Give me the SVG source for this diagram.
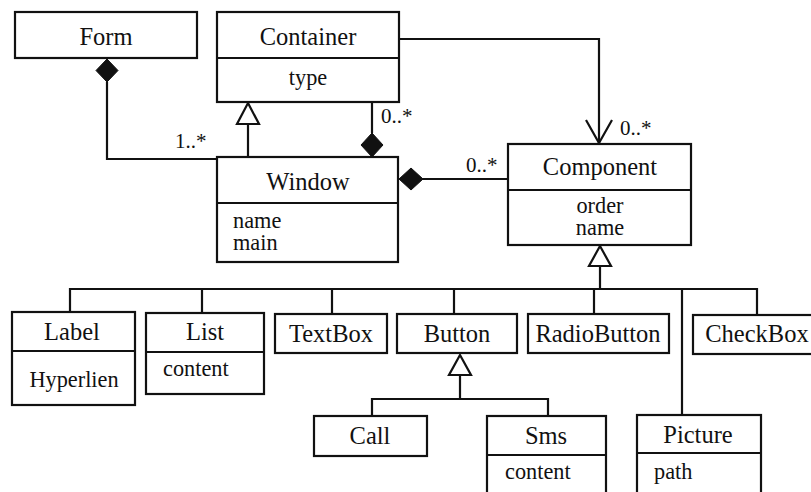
<svg xmlns="http://www.w3.org/2000/svg" width="811" height="492" viewBox="0 0 811 492" font-family="'Liberation Serif', 'Times New Roman', Times, serif">
<style>
.box{fill:#fff;stroke:#111;stroke-width:2.2}
.ln{fill:none;stroke:#111;stroke-width:2.2}
text{font-family:'Liberation Serif','Times New Roman',Times,serif;fill:#111}
.cn{font-size:24.5px;text-anchor:middle}
.at{font-size:22.3px}
.atc{font-size:22.3px;text-anchor:middle}
.m{font-size:21px}
.dia{fill:#111;stroke:#111;stroke-width:1}
.tri{fill:#fff;stroke:#111;stroke-width:2.2}
</style>
<rect width="811" height="492" fill="#fff"/>
<g id="connectors">
  <polyline class="ln" points="107,82 107,159 217,159"/>
  <polygon class="dia" points="107,59 118,70.5 107,82 96,70.5"/>
  <text class="m" x="175" y="148">1..*</text>
  <line class="ln" x1="248" y1="124" x2="248" y2="157"/>
  <polygon class="tri" points="248,103 259,124 237,124"/>
  <line class="ln" x1="372" y1="102" x2="372" y2="133"/>
  <polygon class="dia" points="372,133 383,145 372,157 361,145"/>
  <text class="m" x="381" y="123">0..*</text>
  <line class="ln" x1="422" y1="179" x2="508" y2="179"/>
  <polygon class="dia" points="399,179 411,168 423,179 411,190"/>
  <text class="m" x="466" y="172">0..*</text>
  <polyline class="ln" points="399,39 599,39 599,143"/>
  <polyline class="ln" points="586,120 599,143 612,120"/>
  <text class="m" x="620" y="135">0..*</text>
  <polygon class="tri" points="600,246 611,266 589,266"/>
  <line class="ln" x1="600" y1="266" x2="600" y2="289"/>
  <polyline class="ln" points="70,312 70,289 757,289 757,315"/>
  <line class="ln" x1="202" y1="289" x2="202" y2="313"/>
  <line class="ln" x1="332" y1="289" x2="332" y2="314"/>
  <line class="ln" x1="454" y1="289" x2="454" y2="314"/>
  <line class="ln" x1="594" y1="289" x2="594" y2="314"/>
  <line class="ln" x1="682" y1="289" x2="682" y2="415"/>
  <polygon class="tri" points="460,355 471,375 449,375"/>
  <line class="ln" x1="460" y1="375" x2="460" y2="399"/>
  <polyline class="ln" points="372,416 372,399 548,399 548,416"/>
</g>
<g id="Form">
  <rect class="box" x="15" y="12" width="182" height="46"/>
  <text class="cn" x="106" y="45">Form</text>
</g>
<g id="Container">
  <rect class="box" x="217" y="12" width="182" height="90"/>
  <line class="ln" x1="217" y1="58" x2="399" y2="58"/>
  <text class="cn" x="308" y="45">Container</text>
  <text class="atc" x="308" y="85">type</text>
</g>
<g id="Window">
  <rect class="box" x="217" y="157" width="181" height="105"/>
  <line class="ln" x1="217" y1="203" x2="398" y2="203"/>
  <text class="cn" x="308" y="190">Window</text>
  <text class="at" x="233" y="228">name</text>
  <text class="at" x="233" y="250">main</text>
</g>
<g id="Component">
  <rect class="box" x="508" y="144" width="183" height="101"/>
  <line class="ln" x1="508" y1="190" x2="691" y2="190"/>
  <text class="cn" x="600" y="175">Component</text>
  <text class="atc" x="600" y="213">order</text>
  <text class="atc" x="600" y="235">name</text>
</g>
<g id="Label">
  <rect class="box" x="12" y="312" width="123" height="93"/>
  <line class="ln" x1="12" y1="351" x2="135" y2="351"/>
  <text class="cn" x="72" y="340">Label</text>
  <text class="atc" x="74" y="387">Hyperlien</text>
</g>
<g id="List">
  <rect class="box" x="146" y="313" width="118" height="81"/>
  <line class="ln" x1="146" y1="352" x2="264" y2="352"/>
  <text class="cn" x="205" y="340">List</text>
  <text class="at" x="163" y="376">content</text>
</g>
<g id="TextBox">
  <rect class="box" x="275" y="314" width="112" height="39"/>
  <text class="cn" x="331" y="342">TextBox</text>
</g>
<g id="Button">
  <rect class="box" x="397" y="314" width="120" height="39"/>
  <text class="cn" x="457" y="342">Button</text>
</g>
<g id="RadioButton">
  <rect class="box" x="528" y="314" width="141" height="39"/>
  <text class="cn" x="598" y="342">RadioButton</text>
</g>
<g id="CheckBox">
  <rect class="box" x="693" y="315" width="130" height="39"/>
  <text class="cn" x="757" y="342">CheckBox</text>
</g>
<g id="Call">
  <rect class="box" x="314" y="416" width="113" height="40"/>
  <text class="cn" x="370" y="444">Call</text>
</g>
<g id="Sms">
  <rect class="box" x="487" y="416" width="119" height="90"/>
  <line class="ln" x1="487" y1="455" x2="606" y2="455"/>
  <text class="cn" x="546" y="444">Sms</text>
  <text class="at" x="505" y="479">content</text>
</g>
<g id="Picture">
  <rect class="box" x="637" y="415" width="124" height="90"/>
  <line class="ln" x1="637" y1="453" x2="761" y2="453"/>
  <text class="cn" x="698" y="443">Picture</text>
  <text class="at" x="654" y="479">path</text>
</g>
</svg>
